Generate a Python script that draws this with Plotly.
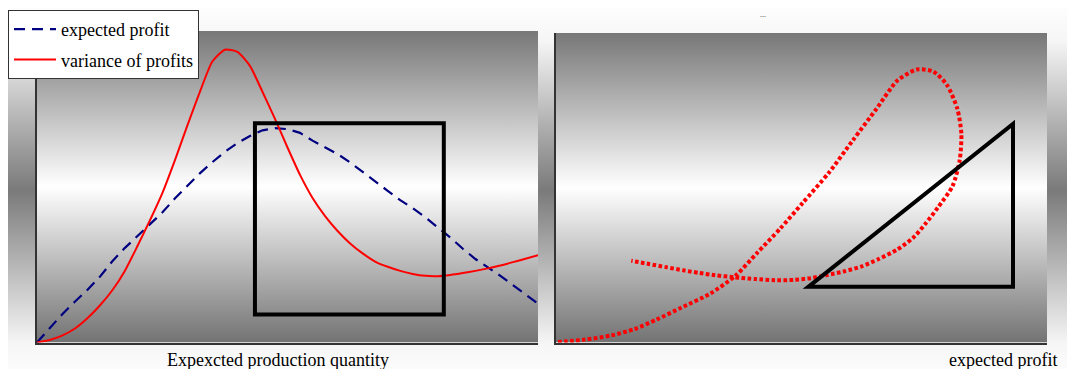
import base64
import plotly.graph_objects as go

# production quantity grid shared by both curves (left chart x axis)
quantity = [0, 2.5, 5, 7.5, 10, 12.5, 15, 17.5, 20, 22.5, 25, 27.5, 30, 32.5, 35, 37.5, 40,
            42.5, 45, 47.5, 50, 52.5, 55, 57.5, 60, 62.5, 65, 67.5, 70, 72.5, 75, 77.5, 80,
            82.5, 85, 87.5, 90, 92.5, 95, 97.5, 100]
expected_profit = [0, 4.6, 9.0, 13.0, 16.8, 21.0, 26.0, 30.3, 34.0, 37.9, 41.7, 46.2, 50.3,
                   54.3, 57.9, 61.2, 64.0, 66.3, 68.1, 68.8, 68.5, 67.3, 64.8, 62.6, 60.5,
                   57.8, 54.7, 51.7, 48.7, 45.7, 43.1, 40.2, 37.0, 33.7, 30.1, 26.8, 24.1,
                   21.4, 18.4, 15.5, 12.5]
variance_of_profits = [0, 0.8, 2.2, 4.4, 7.7, 11.8, 16.7, 22.9, 30.8, 39.1, 47.9, 58.4, 69.6,
                       80.4, 90.2, 94.0, 93.3, 88.8, 80.5, 71.8, 62.6, 53.8, 46.4, 40.6, 35.8,
                       31.8, 28.6, 26.0, 24.3, 23.0, 22.0, 21.4, 21.3, 21.7, 22.3, 23.0, 23.8,
                       24.7, 25.8, 26.9, 28.0]

# the page body keeps an 8px margin, so the figure starts 8px in from the window corner
OFF = 8
W, H = 1075 - OFF, 369 - OFF
SERIF = "Liberation Serif, Times New Roman, serif"


def px_x(p):
    return (p - OFF) / W


def px_y(p):
    return 1 - (p - OFF) / H


def gradient_uri(stops):
    body = "".join(f'<stop offset="{o}" stop-color="{c}"/>' for o, c in stops)
    svg = ('<svg xmlns="http://www.w3.org/2000/svg" width="10" height="100" '
           'viewBox="0 0 10 100" preserveAspectRatio="none">'
           '<defs><linearGradient id="g" x1="0" y1="0" x2="0" y2="1">' + body +
           '</linearGradient></defs><rect width="10" height="100" fill="url(#g)"/></svg>')
    return "data:image/svg+xml;base64," + base64.b64encode(svg.encode()).decode()


outer_bg = gradient_uri([(0, "#fdfdfd"), (0.09, "#f6f6f6"), (0.505, "#7a7a7a"),
                         (0.93, "#f6f6f6"), (1, "#fcfcfc")])
panel_bg = gradient_uri([(0, "#777777"), (0.5, "#ffffff"), (1, "#737373")])

left = (37, 538, 31, 342.5)
right = (556, 1047, 33, 342.5)


def bg_image(src, x0, x1, y0, y1):
    return dict(source=src, xref="paper", yref="paper", x=px_x(x0), y=px_y(y0),
                sizex=(x1 - x0) / W, sizey=(y1 - y0) / H, xanchor="left", yanchor="top",
                sizing="stretch", layer="below")


fig = go.Figure()

fig.add_trace(go.Scatter(x=quantity, y=expected_profit, mode="lines", name="expected profit",
                         line=dict(color="#000080", width=2.2, dash="11px,7px"),
                         xaxis="x", yaxis="y", legendgroup="a"))
fig.add_trace(go.Scatter(x=quantity, y=variance_of_profits, mode="lines",
                         name="variance of profits",
                         line=dict(color="#ff0000", width=2, shape="spline", smoothing=0.6),
                         xaxis="x", yaxis="y", legendgroup="b"))
# right chart: variance against expected profit
fig.add_trace(go.Scatter(x=expected_profit, y=variance_of_profits, mode="lines",
                         line=dict(color="#ff0000", width=4, dash="3.6px,2.4px",
                                   shape="spline", smoothing=0.7),
                         xaxis="x2", yaxis="y2", showlegend=False))

axis_style = dict(showgrid=False, zeroline=False, showticklabels=False, ticks="",
                  showline=True, linecolor="#333333", linewidth=1.5, fixedrange=True)

fig.update_layout(
    width=W, height=H,
    margin=dict(l=0, r=0, t=0, b=0),
    paper_bgcolor="white",
    plot_bgcolor="rgba(0,0,0,0)",
    xaxis=dict(domain=[px_x(left[0]), px_x(left[1])], range=[0, 100], anchor="y", **axis_style),
    yaxis=dict(domain=[px_y(left[3]), px_y(left[2])], range=[0, 100], anchor="x", **axis_style),
    xaxis2=dict(domain=[px_x(right[0]), px_x(right[1])], range=[-0.34, 83.4], anchor="y2",
                **axis_style),
    yaxis2=dict(domain=[px_y(right[3]), px_y(right[2])], range=[-0.2, 106.6], anchor="x2",
                **axis_style),
    images=[bg_image(outer_bg, OFF, 1075, OFF, 369), bg_image(panel_bg, *left),
            bg_image(panel_bg, *right)],
    showlegend=True,
    legend=dict(x=px_x(8), y=px_y(10), xanchor="left", yanchor="top", bgcolor="white",
                bordercolor="#333333", borderwidth=1, tracegroupgap=4, itemwidth=42,
                font=dict(family=SERIF, size=18, color="black")),
    shapes=[
        dict(type="rect", xref="x", yref="y", x0=43.5, x1=81.2, y0=9.0, y1=70.4,
             line=dict(color="black", width=4)),
        dict(type="path", xref="x2", yref="y2", path="M 42.7,19 L 77.6,19 L 77.6,75.2 Z",
             line=dict(color="black", width=4)),
    ],
    annotations=[
        dict(text="Expexcted production quantity", xref="paper", yref="paper",
             x=px_x(278), y=px_y(360), xanchor="center", yanchor="middle", showarrow=False,
             font=dict(family=SERIF, size=18, color="black")),
        dict(text="expected profit", xref="paper", yref="paper",
             x=px_x(1003), y=px_y(360), xanchor="center", yanchor="middle", showarrow=False,
             font=dict(family=SERIF, size=18, color="black")),
        dict(text="...", xref="paper", yref="paper", x=px_x(763), y=px_y(8),
             xanchor="center", yanchor="top", showarrow=False,
             font=dict(family=SERIF, size=8, color="#222222")),
    ],
)

fig.write_html("out.html")
